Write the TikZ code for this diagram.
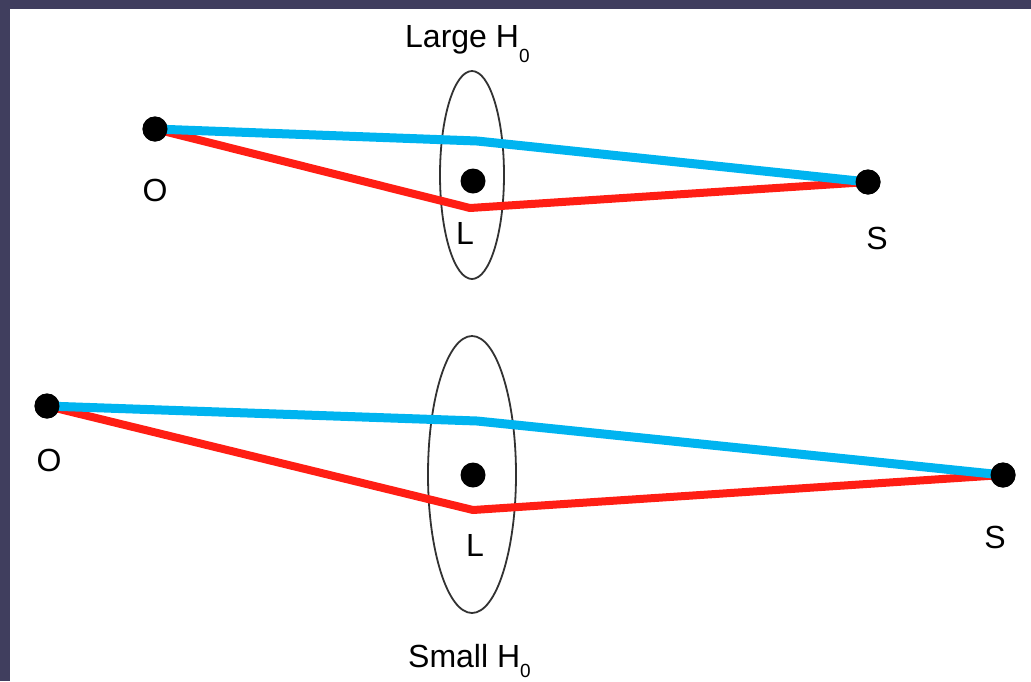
\documentclass[tikz,border=0pt]{standalone}
\usepackage{fontspec}
\setmainfont{Liberation Sans}
\definecolor{slidebg}{RGB}{64,62,94}
\definecolor{rayblue}{RGB}{0,180,240}
\definecolor{rayred}{RGB}{255,30,20}
\definecolor{lensgray}{RGB}{50,50,50}
\begin{document}
\begin{tikzpicture}[x=1pt,y=-1pt,
  dot/.style={circle,fill=black,inner sep=0pt,minimum size=25pt},
  lbl/.style={font=\fontsize{32}{32}\selectfont,inner sep=0pt},
  lens/.style={draw=lensgray,line width=1.8pt},
  bluray/.style={draw=rayblue,line width=9pt,line join=round},
  redray/.style={draw=rayred,line width=8pt,line join=round}]
\useasboundingbox (0,0) rectangle (1031,681);
\fill[slidebg] (0,0) rectangle (1031,681);
\fill[white] (10,9) rectangle (1031,681);
\newcommand{\hsub}[1]{\raisebox{#1}{\fontsize{19}{19}\selectfont 0}}
% ---------- top: Large H0 ----------
\draw[lens] (472,175) ellipse [x radius=32, y radius=104];
\coordinate (tbb) at (477,141);
\coordinate (trb) at (470,208);
\node[dot] (tO) at (155,129) {};
\node[dot] (tL) at (473,181) {};
\node[dot] (tS) at (868,182) {};
\draw[redray] (tO.center) -- (trb) -- (tS.center);
\draw[bluray] (tO.center) -- (tbb) -- (tS.center);
\node[dot] at (tO) {};
\node[dot] at (tS) {};
\node[lbl] (tOl) at (155,190) {O};
\node[lbl] (tLl) at (465,233) {L};
\node[lbl] (tSl) at (877,238) {S};
\node[lbl,anchor=base west] (tH) at (405,47) {Large H\hsub{-15pt}};
% ---------- bottom: Small H0 ----------
\draw[lens] (472,474.5) ellipse [x radius=44, y radius=138.5];
\coordinate (bbb) at (477,421);
\coordinate (brb) at (473,510);
\node[dot] (bO) at (47,406) {};
\node[dot] (bL) at (473,475) {};
\node[dot] (bS) at (1003,475) {};
\draw[redray] (bO.center) -- (brb) -- (bS.center);
\draw[bluray] (bO.center) -- (bbb) -- (bS.center);
\node[dot] at (bO) {};
\node[dot] at (bS) {};
\node[lbl] (bOl) at (49,460) {O};
\node[lbl] (bLl) at (475,545) {L};
\node[lbl] (bSl) at (995,537) {S};
\node[lbl,anchor=base west] (bH) at (408,667) {Small H\hsub{-10pt}};
\end{tikzpicture}
\end{document}
